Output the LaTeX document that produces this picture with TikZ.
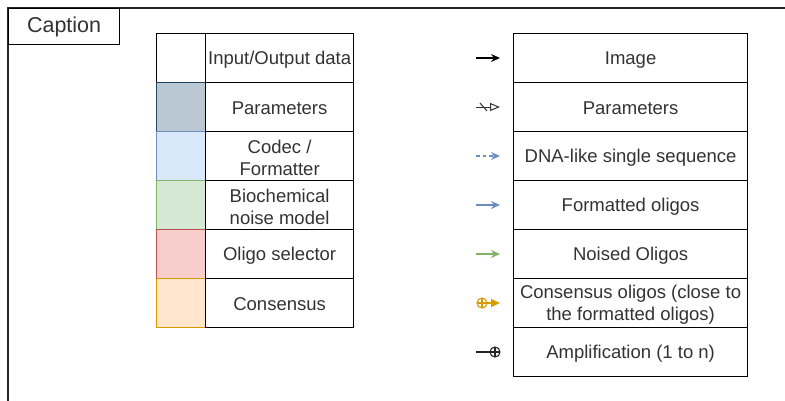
\documentclass[tikz,border=0pt]{standalone}
\usepackage{fontspec}
\setmainfont{Liberation Sans}
\usetikzlibrary{arrows.meta}
\definecolor{txt}{HTML}{333333}
\definecolor{parF}{HTML}{BAC8D3}\definecolor{parD}{HTML}{23445D}
\definecolor{bluF}{HTML}{DAE8FC}\definecolor{bluD}{HTML}{6C8EBF}
\definecolor{grnF}{HTML}{D5E8D4}\definecolor{grnD}{HTML}{82B366}
\definecolor{redF}{HTML}{F8CECC}\definecolor{redD}{HTML}{B85450}
\definecolor{orgF}{HTML}{FFE6CC}\definecolor{orgD}{HTML}{D79B00}
\tikzset{
  cell/.style={draw=black, line width=1.2pt, minimum width=148pt, minimum height=49pt, inner sep=1pt, align=center, text=txt, font=\fontsize{18.5}{22}\selectfont, anchor=north west},
  rcell/.style={cell, minimum width=234pt},
  swatch/.style={line width=1.2pt, minimum width=49pt, minimum height=49pt, anchor=north west, inner sep=0pt},
  arr/.style={line width=1.2pt, -{Stealth[length=9pt,width=8pt]}},
  lbl/.style={text=txt, font=\fontsize{18.5}{22}\selectfont, align=center, inner sep=0pt},
}
\begin{document}
\begin{tikzpicture}[x=1pt,y=-1pt]
\useasboundingbox (0,0) rectangle (785,400);
\fill[white] (0,0) rectangle (785,400);
% frame
\draw[line width=1.2pt, black!85] (786,8) -- (8,8) -- (8,401);
\node[draw=black, line width=1.2pt, minimum width=111pt, minimum height=36pt, anchor=north west, inner sep=0pt, text=txt, font=\fontsize{21.5}{24}\selectfont] (cap) at (8,8) {Caption};
% left table
\node[swatch, draw=black, fill=white] (s1) at (156,33) {};
\node[swatch, draw=parD, fill=parF] (s2) at (156,82) {};
\node[swatch, draw=bluD, fill=bluF] (s3) at (156,131) {};
\node[swatch, draw=grnD, fill=grnF] (s4) at (156,180) {};
\node[swatch, draw=redD, fill=redF] (s5) at (156,229) {};
\node[swatch, draw=orgD, fill=orgF] (s6) at (156,278) {};
\foreach \i/\y/\t in {1/33/{Input/Output data},2/82/{Parameters},3/131/{Codec /\\Formatter},4/180/{Biochemical\\noise model},5/229/{Oligo selector},6/278/{Consensus}}{
  \node[cell] (l\i) at (205,\y) {};
  \node[lbl] (lt\i) at ([yshift=-1.5pt]l\i.center) {\t};
}
% right table
\foreach \i/\y/\t in {1/33/{Image},2/82/{Parameters},3/131/{DNA-like single sequence},4/180/{Formatted oligos},5/229/{Noised Oligos},6/278/{Consensus oligos (close to\\the formatted oligos)},7/327/{Amplification (1 to n)}}{
  \node[rcell] (r\i) at (513,\y) {};
  \node[lbl] (rt\i) at ([yshift=-1.5pt]r\i.center) {\t};
}
% arrow coordinates
\foreach \i/\y in {1/58,2/107,3/156,4/205,5/254,6/303,7/352}{
  \coordinate (a\i) at (476,\y);
  \coordinate (b\i) at (500,\y);
}
\draw[arr] (a1) -- (b1);
% parameters: dash + open triangle
\draw[line width=1pt, black!80, -{Triangle[open,length=10pt,width=8pt]}] (a2) -- (b2);
\draw[line width=1pt, black!80] ([xshift=4pt,yshift=4pt]a2) -- ([xshift=11pt,yshift=-4pt]a2);
\draw[arr, bluD, dashed, dash pattern=on 3.5pt off 3pt] (a3) -- (b3);
\draw[arr, bluD] (a4) -- (b4);
\draw[arr, grnD] (a5) -- (b5);
% consensus: circle plus start + block end
\coordinate (c6) at (482,303);
\draw[line width=1.1pt, orgD] (c6) circle (5pt);
\draw[line width=1.1pt, orgD] ([xshift=-5pt]c6) -- ([xshift=5pt]c6) ([yshift=-5pt]c6) -- ([yshift=5pt]c6);
\draw[line width=1.1pt, orgD, -{Triangle[length=9pt,width=8pt]}] ([xshift=5pt]c6) -- (b6);
% amplification: line + circle plus end
\coordinate (c7) at (495,352);
\draw[line width=1.1pt, black!85] (a7) -- ([xshift=-5pt]c7);
\draw[line width=1.1pt, black!85] (c7) circle (5pt);
\draw[line width=1.1pt, black!85] ([xshift=-5pt]c7) -- ([xshift=5pt]c7) ([yshift=-5pt]c7) -- ([yshift=5pt]c7);
\end{tikzpicture}
\end{document}
